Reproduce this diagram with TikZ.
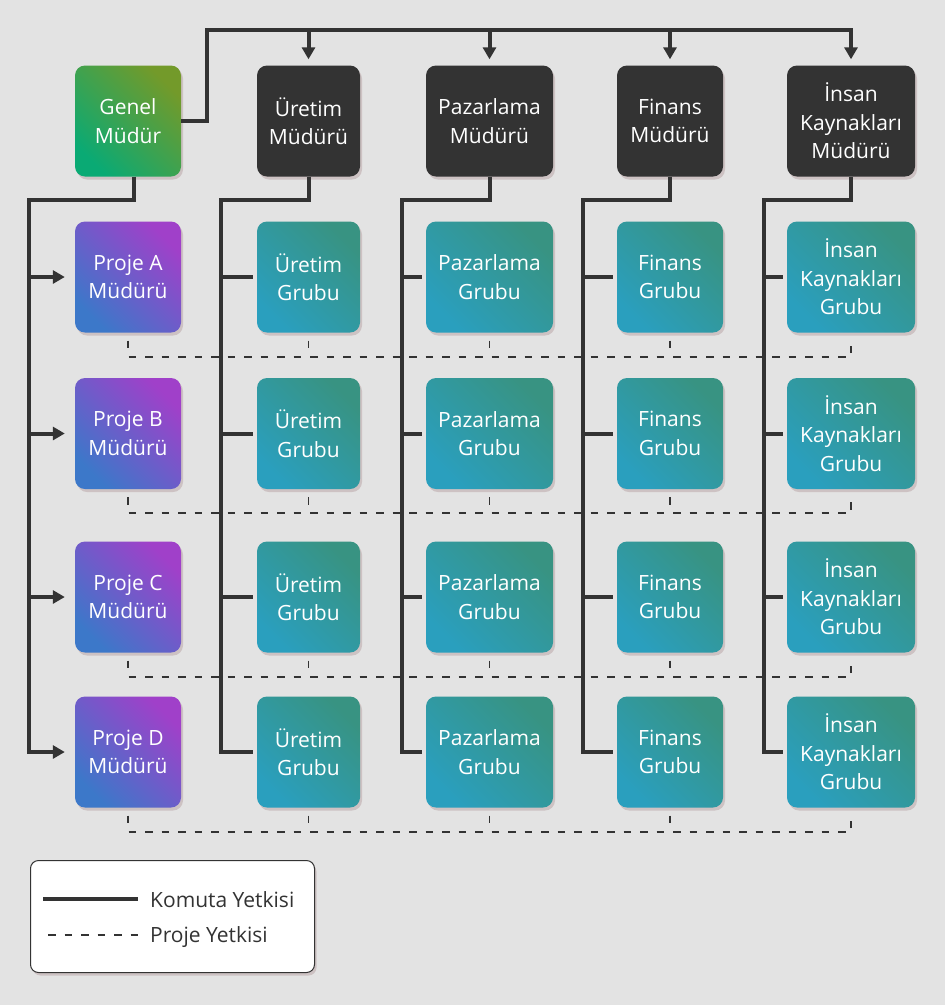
\documentclass[tikz,border=0pt]{standalone}
\usepackage{fontspec}
\setmainfont{Open Sans}
\usetikzlibrary{arrows.meta,shadows}
\definecolor{bgc}{HTML}{E3E3E3}
\definecolor{linec}{HTML}{333333}
\definecolor{headc}{HTML}{333333}
\definecolor{genA}{HTML}{0AAA74}
\definecolor{genB}{HTML}{739A2A}
\definecolor{projA}{HTML}{3C78C9}
\definecolor{projB}{HTML}{A040C9}
\definecolor{grpA}{HTML}{2A9FBE}
\definecolor{grpB}{HTML}{389382}
\definecolor{shadowc}{HTML}{CDC2C3}
\newcommand{\boxFont}[0]{\fontsize{21}{28.5}\selectfont}

\begin{document}
\begin{tikzpicture}[x=1pt, y=-1pt]
  \tikzset{
    unit/.style={rounded corners=10pt, minimum height=111pt, inner sep=0pt,
      align=center, text=white, font=\boxFont,
      drop shadow={shadow xshift=2pt, shadow yshift=-3pt, fill=shadowc, opacity=1}},
    head/.style={unit, fill=headc},
    general/.style={unit, left color=genA, right color=genB, shading angle=135},
    project/.style={unit, left color=projA, right color=projB, shading angle=135},
    group/.style={unit, left color=grpA, right color=grpB, shading angle=135},
    command/.style={draw=linec, line width=4pt},
    authority/.style={draw=linec, line width=1.8pt, dash pattern=on 7.5pt off 9pt},
    tip/.style={-{Triangle[width=13pt,length=12pt]}},
    legend text/.style={text=linec, font=\boxFont, inner sep=0pt, anchor=base west}
  }
  \fill[bgc] (0,0) rectangle (945,1005);
  \useasboundingbox (0,0) rectangle (945,1005);

  % managers
  \node[general, minimum width=106pt] (GM) at (128,121) {Genel\\Müdür};
  \node[head, minimum width=103pt] (FM-1) at (308.5,121) {Üretim\\Müdürü};
  \node[head, minimum width=127pt] (FM-2) at (489.5,121) {Pazarlama\\Müdürü};
  \node[head, minimum width=106pt] (FM-3) at (670,121) {Finans\\Müdürü};
  \node[head, minimum width=128pt] (FM-4) at (851,121) {İnsan\\Kaynakları\\Müdürü};

  % row 1
  \node[project, minimum width=106pt] (PM-1) at (128,277) {Proje A\\Müdürü};
  \node[group, minimum width=103pt] (GR-1-1) at (308.5,277) {Üretim\\Grubu};
  \node[group, minimum width=127pt] (GR-1-2) at (489.5,277) {Pazarlama\\Grubu};
  \node[group, minimum width=106pt] (GR-1-3) at (670,277) {Finans\\Grubu};
  \node[group, minimum width=128pt] (GR-1-4) at (851,277) {İnsan\\Kaynakları\\Grubu};

  % row 2
  \node[project, minimum width=106pt] (PM-2) at (128,433.5) {Proje B\\Müdürü};
  \node[group, minimum width=103pt] (GR-2-1) at (308.5,433.5) {Üretim\\Grubu};
  \node[group, minimum width=127pt] (GR-2-2) at (489.5,433.5) {Pazarlama\\Grubu};
  \node[group, minimum width=106pt] (GR-2-3) at (670,433.5) {Finans\\Grubu};
  \node[group, minimum width=128pt] (GR-2-4) at (851,433.5) {İnsan\\Kaynakları\\Grubu};

  % row 3
  \node[project, minimum width=106pt] (PM-3) at (128,597) {Proje C\\Müdürü};
  \node[group, minimum width=103pt] (GR-3-1) at (308.5,597) {Üretim\\Grubu};
  \node[group, minimum width=127pt] (GR-3-2) at (489.5,597) {Pazarlama\\Grubu};
  \node[group, minimum width=106pt] (GR-3-3) at (670,597) {Finans\\Grubu};
  \node[group, minimum width=128pt] (GR-3-4) at (851,597) {İnsan\\Kaynakları\\Grubu};

  % row 4
  \node[project, minimum width=106pt] (PM-4) at (128,752) {Proje D\\Müdürü};
  \node[group, minimum width=103pt] (GR-4-1) at (308.5,752) {Üretim\\Grubu};
  \node[group, minimum width=127pt] (GR-4-2) at (489.5,752) {Pazarlama\\Grubu};
  \node[group, minimum width=106pt] (GR-4-3) at (670,752) {Finans\\Grubu};
  \node[group, minimum width=128pt] (GR-4-4) at (851,752) {İnsan\\Kaynakları\\Grubu};

  % command lines
  \coordinate (TOP) at (207,30);
  \coordinate (T-0) at (29,200);
  \coordinate (T-1) at (221,200);
  \coordinate (T-2) at (402,200);
  \coordinate (T-3) at (583,200);
  \coordinate (T-4) at (764,200);
  \draw[command, tip] (GM.east) -| (TOP) -| ([yshift=6pt]FM-4.north);
  \draw[command, tip] (FM-1.north |- TOP) -- ([yshift=6pt]FM-1.north);
  \draw[command, tip] (FM-2.north |- TOP) -- ([yshift=6pt]FM-2.north);
  \draw[command, tip] (FM-3.north |- TOP) -- ([yshift=6pt]FM-3.north);

  \draw[command, tip] ([xshift=6pt]GM.south) |- (T-0) |- ([xshift=-10pt]PM-4.west);
  \draw[command, tip] (T-0 |- PM-1.west) -- ([xshift=-10pt]PM-1.west);
  \draw[command, tip] (T-0 |- PM-2.west) -- ([xshift=-10pt]PM-2.west);
  \draw[command, tip] (T-0 |- PM-3.west) -- ([xshift=-10pt]PM-3.west);

  \draw[command] (FM-1.south) |- (T-1) |- ([xshift=-4pt]GR-4-1.west);
  \draw[command] (T-1 |- GR-1-1.west) -- ([xshift=-4pt]GR-1-1.west);
  \draw[command] (T-1 |- GR-2-1.west) -- ([xshift=-4pt]GR-2-1.west);
  \draw[command] (T-1 |- GR-3-1.west) -- ([xshift=-4pt]GR-3-1.west);

  \draw[command] (FM-2.south) |- (T-2) |- ([xshift=-4pt]GR-4-2.west);
  \draw[command] (T-2 |- GR-1-2.west) -- ([xshift=-4pt]GR-1-2.west);
  \draw[command] (T-2 |- GR-2-2.west) -- ([xshift=-4pt]GR-2-2.west);
  \draw[command] (T-2 |- GR-3-2.west) -- ([xshift=-4pt]GR-3-2.west);

  \draw[command] (FM-3.south) |- (T-3) |- ([xshift=-4pt]GR-4-3.west);
  \draw[command] (T-3 |- GR-1-3.west) -- ([xshift=-4pt]GR-1-3.west);
  \draw[command] (T-3 |- GR-2-3.west) -- ([xshift=-4pt]GR-2-3.west);
  \draw[command] (T-3 |- GR-3-3.west) -- ([xshift=-4pt]GR-3-3.west);

  \draw[command] (FM-4.south) |- (T-4) |- ([xshift=-4pt]GR-4-4.west);
  \draw[command] (T-4 |- GR-1-4.west) -- ([xshift=-4pt]GR-1-4.west);
  \draw[command] (T-4 |- GR-2-4.west) -- ([xshift=-4pt]GR-2-4.west);
  \draw[command] (T-4 |- GR-3-4.west) -- ([xshift=-4pt]GR-3-4.west);

  % project lines
  \draw[authority] ([yshift=-8pt]PM-1.south) -- ++(0,16) -| ([yshift=-8pt]GR-1-4.south);
  \draw[authority] ([yshift=-8pt]GR-1-1.south) -- ++(0,16);
  \draw[authority] ([yshift=-8pt]GR-1-2.south) -- ++(0,16);
  \draw[authority] ([yshift=-8pt]GR-1-3.south) -- ++(0,16);

  \draw[authority] ([yshift=-8pt]PM-2.south) -- ++(0,16) -| ([yshift=-8pt]GR-2-4.south);
  \draw[authority] ([yshift=-8pt]GR-2-1.south) -- ++(0,16);
  \draw[authority] ([yshift=-8pt]GR-2-2.south) -- ++(0,16);
  \draw[authority] ([yshift=-8pt]GR-2-3.south) -- ++(0,16);

  \draw[authority] ([yshift=-8pt]PM-3.south) -- ++(0,16) -| ([yshift=-8pt]GR-3-4.south);
  \draw[authority] ([yshift=-8pt]GR-3-1.south) -- ++(0,16);
  \draw[authority] ([yshift=-8pt]GR-3-2.south) -- ++(0,16);
  \draw[authority] ([yshift=-8pt]GR-3-3.south) -- ++(0,16);

  \draw[authority] ([yshift=-8pt]PM-4.south) -- ++(0,16) -| ([yshift=-8pt]GR-4-4.south);
  \draw[authority] ([yshift=-8pt]GR-4-1.south) -- ++(0,16);
  \draw[authority] ([yshift=-8pt]GR-4-2.south) -- ++(0,16);
  \draw[authority] ([yshift=-8pt]GR-4-3.south) -- ++(0,16);

  % legend
  \node[draw=linec, fill=white, line width=1pt, rounded corners=8pt, anchor=north west,
    minimum width=284pt, minimum height=112pt,
    drop shadow={shadow xshift=2pt, shadow yshift=-3pt, fill=shadowc, opacity=1}] (LEG) at (30,860) {};
  \coordinate (KL-a) at (43,899);
  \coordinate (KL-b) at (138,899);
  \coordinate (PL-a) at (48,935);
  \coordinate (PL-b) at (138,935);
  \draw[command] (KL-a) -- (KL-b);
  \draw[authority] (PL-a) -- (PL-b);
  \node[legend text] (KT) at (150,907) {Komuta Yetkisi};
  \node[legend text] (PT) at (150,942) {Proje Yetkisi};
\end{tikzpicture}
\end{document}
